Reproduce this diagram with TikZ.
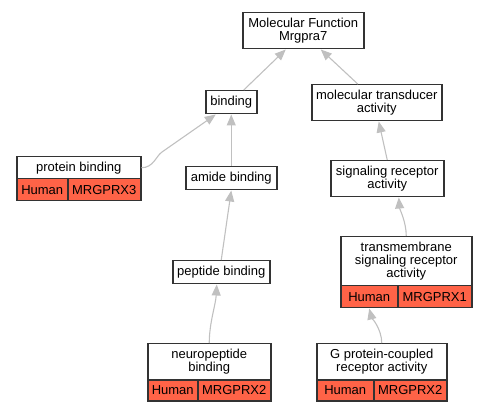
\documentclass[tikz,border=0pt]{standalone}
\usepackage{fontspec}
\setmainfont{Liberation Sans}
\usetikzlibrary{arrows.meta}
\definecolor{hitred}{HTML}{FF6347}
\definecolor{edgegray}{HTML}{C0C0C0}
\definecolor{boxline}{HTML}{333333}

\begin{document}
\begin{tikzpicture}[x = 1pt, y = -1pt,
        font = \fontsize{13}{13.2}\selectfont,
        term/.style = {draw = boxline, line width = 1.5pt, fill = white, anchor = north west,
            inner sep = 0pt, align = center},
        cell/.style = {term, fill = hitred},
        edge/.style = {draw = edgegray, line width = 1.1pt, -{Triangle[length = 11pt, width = 9pt]}}]
        \useasboundingbox (0,0) rectangle (487,411);

        % terms
        \node [term, minimum width = 121, minimum height = 36] (mf) at (242,12) {Molecular Function\\Mrgpra7};
        \node [term, minimum width = 51, minimum height = 23] (bind) at (205,90) {binding};
        \node [term, minimum width = 130, minimum height = 36] (mta) at (311,84) {molecular transducer\\activity};
        \node [term, minimum width = 91, minimum height = 23] (amide) at (185,166) {amide binding};
        \node [term, minimum width = 113, minimum height = 36] (sra) at (330,160) {signaling receptor\\activity};
        \node [term, minimum width = 97, minimum height = 23] (pep) at (172,260) {peptide binding};

        % terms with annotations
        \node [term, minimum width = 124, minimum height = 22] (prot) at (16,156) {protein binding};
        \node [cell, minimum width = 51, minimum height = 22] (prothum) at (16,178) {Human};
        \node [cell, minimum width = 73, minimum height = 22] (protgene) at (67,178) {MRGPRX3};

        \node [term, minimum width = 131, minimum height = 49] (tm) at (340,236) {transmembrane\\signaling receptor\\activity};
        \node [cell, minimum width = 57, minimum height = 22] (tmhum) at (340,285) {Human};
        \node [cell, minimum width = 74, minimum height = 22] (tmgene) at (397,285) {MRGPRX1};

        \node [term, minimum width = 123, minimum height = 36] (neuro) at (147,343) {neuropeptide\\binding};
        \node [cell, minimum width = 50, minimum height = 21] (neurohum) at (147,379) {Human};
        \node [cell, minimum width = 73, minimum height = 21] (neurogene) at (197,379) {MRGPRX2};

        \node [term, minimum width = 130, minimum height = 36] (gpcr) at (316,343) {G protein-coupled\\receptor activity};
        \node [cell, minimum width = 57, minimum height = 21] (gpcrhum) at (316,379) {Human};
        \node [cell, minimum width = 73, minimum height = 21] (gpcrgene) at (373,379) {MRGPRX2};

        % is_a edges
        \draw [edge] ([xshift = 12.5]bind.north) -- ([xshift = -17.5]mf.south);
        \draw [edge] ([xshift = -19]mta.north) -- ([xshift = 17.5]mf.south);
        \draw [edge] (prot.east) .. controls +(12,0) and +(-6,4) .. (162,152) -- ([xshift = -15.5]bind.south);
        \draw [edge] (amide.north) -- (bind.south);
        \draw [edge] (sra.north) -- ([xshift = 2]mta.south);
        \draw [edge] (pep.north) -- (amide.south);
        \draw [edge] (tm.north) .. controls +(0,-14) and +(1,12) .. ([xshift = 11.5]sra.south);
        \draw [edge] (neuro.north) .. controls +(0,-20) and +(-1,20) .. ([xshift = -4.5]pep.south);
        \draw [edge] (gpcr.north) .. controls +(0,-14) and +(2,8) .. (tmhum.south);
    \end{tikzpicture}
\end{document}
